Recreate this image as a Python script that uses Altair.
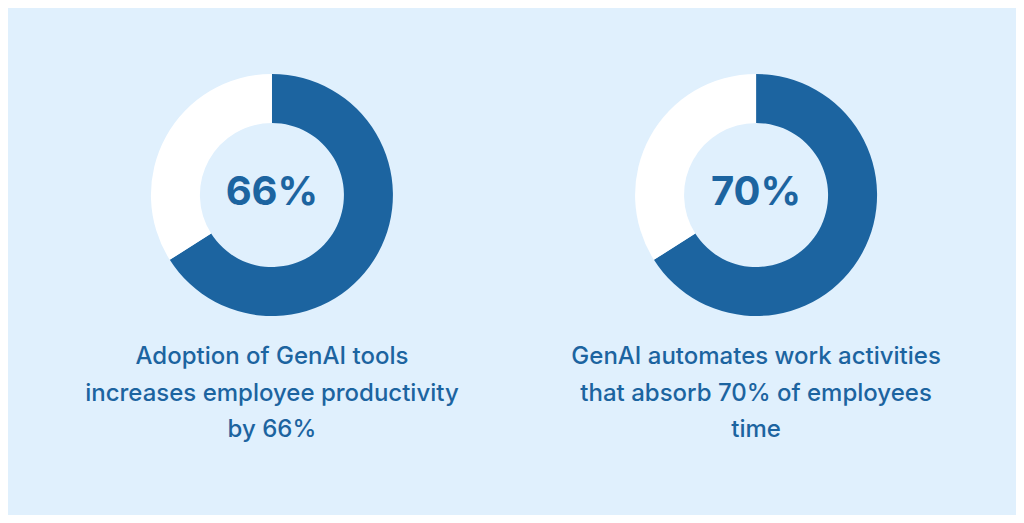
import altair as alt
import pandas as pd

panels = ["left", "right"]
filled_share = [66, 66]          # arc share as drawn in the picture
center_labels = ["66%", "70%"]
captions = [
    "Adoption of GenAI tools\nincreases employee productivity\nby 66%",
    "GenAI automates work activities\nthat absorb 70% of employees\ntime",
]

BLUE = "#1C64A0"
BG = "#E0F0FD"

rows = []
for p, v in zip(panels, filled_share):
    rows.append({"panel": p, "segment": "filled", "start": 0, "end": v})
    rows.append({"panel": p, "segment": "rest", "start": v, "end": 100})
arcs_df = pd.DataFrame(rows)
text_df = pd.DataFrame({"panel": panels, "label": center_labels, "caption": captions})

xenc = alt.X("panel:N", scale=alt.Scale(type="point", domain=panels, padding=0.541, range=[2, 1010]), axis=None)

arcs = alt.Chart(arcs_df).mark_arc(innerRadius=72, outerRadius=121, stroke=None).encode(
    x=xenc,
    y=alt.value(187),
    theta=alt.Theta("start:Q", scale=alt.Scale(domain=[0, 100], range=[0, 6.283185307])),
    theta2="end:Q",
    color=alt.Color("segment:N", scale=alt.Scale(domain=["filled", "rest"], range=[BLUE, "#FFFFFF"]), legend=None),
)

center = alt.Chart(text_df).mark_text(
    font="Inter", fontSize=40, fontWeight="bold", color=BLUE, baseline="middle", align="center"
).encode(x=xenc, y=alt.value(185), text="label:N")

caption = alt.Chart(text_df).mark_text(
    font="Inter", fontSize=24, fontWeight=500, color=BLUE, baseline="top", align="center",
    lineBreak="\n", lineHeight=36.5
).encode(x=xenc, y=alt.value(337), text="caption:N")

chart = alt.layer(arcs, center, caption).properties(
    width=1008, height=507, background=BG, padding=0,
    autosize=alt.AutoSizeParams(type="fit", contains="padding"),
).configure_view(stroke=None)

chart.save("out.html", embed_options={"renderer": "svg", "actions": False})
